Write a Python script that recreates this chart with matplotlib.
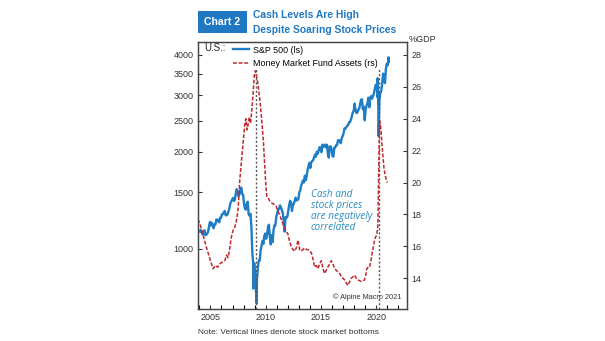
import numpy as np
import matplotlib
matplotlib.use("Agg")
import matplotlib.pyplot as plt
from matplotlib.ticker import FixedLocator, FixedFormatter, NullLocator, MultipleLocator

plt.rcParams['font.family'] = ['Liberation Sans', 'DejaVu Sans']

# S&P 500, monthly levels Jan 2004 .. Feb 2021
spx_monthly = [
    1131, 1145, 1126, 1107, 1121, 1141, 1102, 1104, 1115, 1130, 1174, 1212,
    1181, 1204, 1181, 1157, 1192, 1191, 1234, 1220, 1229, 1207, 1249, 1248,
    1280, 1281, 1295, 1311, 1270, 1270, 1277, 1304, 1336, 1378, 1401, 1418,
    1438, 1407, 1421, 1482, 1531, 1503, 1455, 1474, 1527, 1549, 1481, 1468,
    1379, 1331, 1323, 1386, 1400, 1280, 1267, 1283, 1165, 969, 896, 903,
    826, 735, 798, 873, 919, 919, 987, 1021, 1057, 1036, 1096, 1115,
    1074, 1104, 1169, 1187, 1089, 1031, 1102, 1049, 1141, 1183, 1181, 1258,
    1286, 1327, 1326, 1364, 1345, 1321, 1292, 1219, 1131, 1253, 1247, 1258,
    1312, 1366, 1408, 1398, 1310, 1362, 1379, 1407, 1441, 1412, 1416, 1426,
    1498, 1515, 1569, 1598, 1631, 1606, 1686, 1633, 1682, 1757, 1806, 1848,
    1783, 1859, 1872, 1884, 1924, 1960, 1931, 2003, 1972, 2018, 2068, 2059,
    1995, 2105, 2068, 2086, 2107, 2063, 2104, 1972, 1920, 2079, 2080, 2044,
    1940, 1932, 2060, 2065, 2097, 2099, 2174, 2171, 2168, 2126, 2199, 2239,
    2279, 2364, 2363, 2384, 2412, 2423, 2470, 2472, 2519, 2575, 2648, 2674,
    2824, 2714, 2641, 2648, 2705, 2718, 2816, 2902, 2914, 2712, 2760, 2507,
    2704, 2784, 2834, 2946, 2752, 2942, 2980, 2926, 2977, 3038, 3141, 3231,
    3226, 2954, 2585, 2912, 3044, 3100, 3271, 3500, 3363, 3270, 3622, 3756,
    3714, 3811,
]
# weekly extremes that the monthly series misses
spx_extra_dates = [2008.89, 2009.18, 2020.13, 2020.22, 2021.12]
spx_extra_vals = [752, 677, 3386, 2237, 3934]

# Money market fund assets, % of GDP
mmf_dates = [
    2003.88, 2004.10, 2004.30, 2004.49, 2004.65, 2004.79, 2005.00, 2005.24, 2005.45, 2005.65,
    2005.84, 2006.05, 2006.30, 2006.45, 2006.60, 2006.75, 2006.90, 2007.05, 2007.20, 2007.35,
    2007.50, 2007.65, 2007.80, 2007.96, 2008.10, 2008.20, 2008.30, 2008.38, 2008.45, 2008.55,
    2008.62, 2008.73, 2008.85, 2008.97, 2009.07, 2009.15, 2009.25, 2009.33, 2009.45, 2009.58,
    2009.70, 2009.80, 2009.90, 2010.00, 2010.10, 2010.25, 2010.40, 2010.60, 2010.81, 2010.95,
    2011.11, 2011.25, 2011.35, 2011.45, 2011.56, 2011.70, 2011.87, 2012.00, 2012.17, 2012.30,
    2012.47, 2012.62, 2012.77, 2012.92, 2013.07, 2013.22, 2013.37, 2013.52, 2013.68, 2013.82,
    2013.97, 2014.13, 2014.28, 2014.43, 2014.58, 2014.72, 2014.88, 2015.03, 2015.18, 2015.33,
    2015.48, 2015.63, 2015.78, 2015.93, 2016.08, 2016.24, 2016.39, 2016.53, 2016.70, 2016.84,
    2017.00, 2017.14, 2017.30, 2017.43, 2017.60, 2017.74, 2017.90, 2018.04, 2018.20, 2018.34,
    2018.50, 2018.64, 2018.80, 2018.94, 2019.05, 2019.15, 2019.28, 2019.40, 2019.52, 2019.64,
    2019.75, 2019.85, 2019.95, 2020.05, 2020.15, 2020.22, 2020.30, 2020.38, 2020.45, 2020.52,
    2020.60, 2020.70, 2020.80, 2020.90, 2021.00,
]
mmf_vals = [
    17.7, 17.3, 16.8, 16.3, 15.9, 15.6, 15.1, 14.6, 14.8, 14.7,
    14.9, 15.0, 15.1, 15.45, 15.3, 15.9, 16.6, 17.0, 17.2, 17.6,
    18.3, 20.1, 21.3, 22.5, 23.6, 24.0, 23.3, 23.5, 23.9, 24.1,
    23.7, 24.4, 25.5, 26.7, 27.0, 26.7, 26.4, 26.0, 25.3, 24.4,
    23.4, 22.5, 21.2, 20.0, 19.1, 19.0, 18.8, 18.7, 18.6, 18.5,
    18.2, 18.0, 17.8, 17.6, 17.4, 17.2, 16.9, 16.8, 16.3, 16.0,
    15.8, 15.7, 15.9, 16.4, 15.8, 15.7, 15.8, 15.9, 15.8, 15.8,
    15.7, 15.6, 15.2, 14.7, 14.8, 14.6, 14.9, 15.1, 14.6, 14.3,
    14.5, 14.7, 14.9, 15.1, 14.9, 14.6, 14.5, 14.4, 14.3, 14.1,
    14.0, 13.9, 13.7, 13.55, 13.8, 14.0, 14.1, 14.2, 14.0, 13.9,
    13.85, 13.8, 13.85, 13.9, 14.2, 14.6, 14.7, 14.7, 15.1, 15.6,
    16.0, 16.4, 16.6, 16.7, 17.3, 20.5, 23.9, 23.6, 23.1, 22.4,
    21.7, 20.9, 20.5, 20.2, 20.0,
]

stock_bottoms = [2009.12, 2020.27]

left_ticks = [1000, 1500, 2000, 2500, 3000, 3500, 4000]
right_ticks = [14, 16, 18, 20, 22, 24, 26, 28]
year_labels = [2005, 2010, 2015, 2020]

blue = '#1f7dc6'
red = '#c0272d'
title_blue = '#1f78c1'

# merge monthly and extra S&P points
spx_dates = list(2004 + (np.arange(len(spx_monthly)) + 0.5) / 12) + spx_extra_dates
spx_vals = spx_monthly + spx_extra_vals
order = np.argsort(spx_dates)
spx_x = np.array(spx_dates)[order]
spx_y = np.array(spx_vals)[order]

fig = plt.figure(figsize=(6.05, 3.41), dpi=100)
ax = fig.add_axes([0.327, 0.094, 0.346, 0.784])
ax2 = ax.twinx()

l1, = ax.plot(spx_x, spx_y, color=blue, lw=1.7, zorder=3)
l2, = ax2.plot(mmf_dates, mmf_vals, color=red, lw=1.1, ls=(0, (2.5, 1.2)), zorder=2)

for d in stock_bottoms:
    ax.axvline(d, ymin=0, ymax=0.9, color='#555555', lw=1.0, ls=(0, (1.5, 1.5)), zorder=4)

ax.set_yscale('log')
ax.set_ylim(650, 4400)
ax.yaxis.set_major_locator(FixedLocator(left_ticks))
ax.yaxis.set_major_formatter(FixedFormatter([str(t) for t in left_ticks]))
ax.yaxis.set_minor_locator(NullLocator())

ax2.set_ylim(12.08, 28.83)
ax2.set_yticks(right_ticks)

ax.set_xlim(2003.86, 2022.8)
ax.set_xticks(year_labels)
ax.xaxis.set_minor_locator(MultipleLocator(1))

for a in (ax, ax2):
    a.tick_params(direction='in', length=3, width=0.8, labelsize=6.5, colors='#333333', pad=3)
    a.tick_params(which='minor', direction='in', length=3, width=0.8)
    for s in a.spines.values():
        s.set_color('#444444')
        s.set_linewidth(0.9)

# legend
ax.text(0.03, 0.975, 'U.S.:', transform=ax.transAxes, fontsize=7, va='center', color='#222222')
leg = ax.legend([l1, l2], ['S&P 500 (ls)', 'Money Market Fund Assets (rs)'],
                loc='upper left', bbox_to_anchor=(0.13, 1.015), frameon=False,
                fontsize=6.4, handlelength=1.8, handletextpad=0.4, labelspacing=0.5)

ax.text(0.54, 0.45, 'Cash and\nstock prices\nare negatively\ncorrelated', transform=ax.transAxes,
        fontsize=7.2, style='italic', color='#2a8bc0', va='top', ha='left',
        linespacing=1.0, family=['Open Sans', 'DejaVu Sans'])
ax.text(0.97, 0.03, '\u00a9 Alpine Macro 2021', transform=ax.transAxes, fontsize=5.3,
        ha='right', va='bottom', color='#333333')

fig.text(0.675, 0.87, '%GDP', fontsize=6.5, ha='left', va='bottom', color='#333333')

# title block
fig.text(0.338, 0.935, 'Chart 2', fontsize=7.6, fontweight='bold', color='white', va='center', ha='left',
         bbox=dict(boxstyle='square,pad=0.6', fc=title_blue, ec='none'))
fig.text(0.418, 0.955, 'Cash Levels Are High', fontsize=7.4, fontweight='bold', color=title_blue,
         va='center', ha='left')
fig.text(0.418, 0.913, 'Despite Soaring Stock Prices', fontsize=7.4, fontweight='bold', color=title_blue,
         va='center', ha='left')

fig.text(0.327, 0.025, 'Note: Vertical lines denote stock market bottoms', fontsize=6, color='#333333',
         va='center', ha='left')

fig.savefig('out.png', dpi=100)
